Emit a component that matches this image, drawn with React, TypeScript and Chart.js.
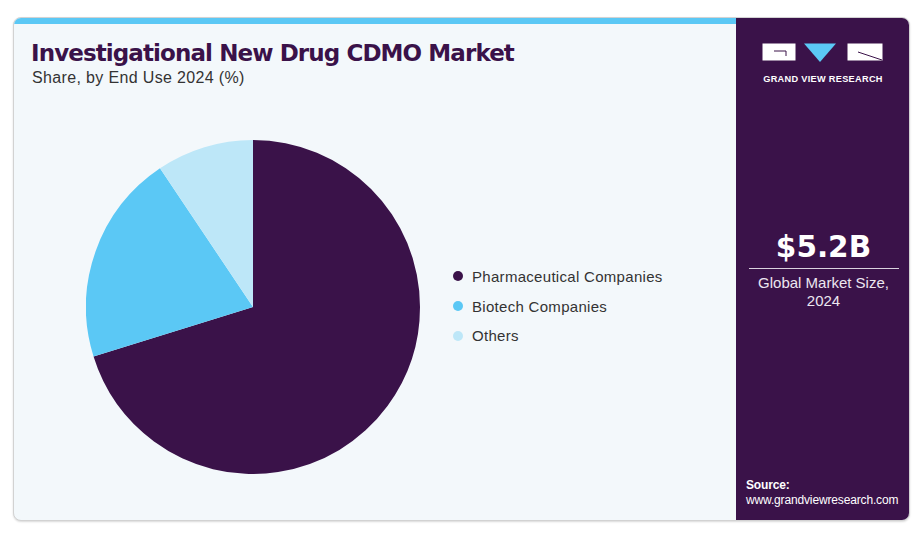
import React, { useEffect, useRef } from "react";
import { Chart, registerables } from "chart.js";

Chart.register(...registerables);

const categories = ["Pharmaceutical Companies", "Biotech Companies", "Others"];
const shares = [70.2, 20.4, 9.4];
const colors = ["#3a1249", "#5bc8f5", "#bde7f8"];

const title = "Investigational New Drug CDMO Market";
const subtitle = "Share, by End Use 2024 (%)";
const marketValue = "$5.2B";
const marketLabel1 = "Global Market Size,";
const marketLabel2 = "2024";

export default function App() {
  const canvasRef = useRef<HTMLCanvasElement | null>(null);

  useEffect(() => {
    if (!canvasRef.current) return;
    const chart = new Chart(canvasRef.current, {
      type: "pie",
      data: {
        labels: categories,
        datasets: [
          {
            data: shares,
            backgroundColor: colors,
            borderWidth: 0,
          },
        ],
      },
      options: {
        animation: false,
        responsive: false,
        maintainAspectRatio: false,
        layout: { padding: 0 },
        plugins: {
          legend: { display: false },
          tooltip: { enabled: false },
        },
      },
    });
    return () => chart.destroy();
  }, []);

  const font = "'Liberation Sans', Arial, sans-serif";
  const heavy = "'DejaVu Sans', 'Liberation Sans', sans-serif";

  return (
    <div
      style={{
        position: "fixed",
        left: 0,
        top: 0,
        width: 922,
        height: 534,
        background: "#ffffff",
        fontFamily: font,
      }}
    >
      <div
        style={{
          position: "absolute",
          left: 13,
          top: 17,
          width: 897,
          height: 504,
          borderRadius: 8,
          border: "1px solid #d2d2d2",
          boxSizing: "border-box",
          overflow: "hidden",
          background: "#f3f8fb",
          boxShadow: "0 1px 2px rgba(0,0,0,0.15)",
        }}
      >
        {/* top stripe */}
        <div
          style={{
            position: "absolute",
            left: 0,
            top: 0,
            width: 722,
            height: 6,
            background: "#5bc8f5",
          }}
        />
        {/* right panel */}
        <div
          style={{
            position: "absolute",
            left: 722,
            top: 0,
            width: 175,
            height: 504,
            background: "#3a1249",
          }}
        />
        {/* Title */}
        <div
          style={{
            position: "absolute",
            left: 17,
            top: 22,
            fontSize: 23,
            fontWeight: 700,
            fontFamily: heavy,
            letterSpacing: -0.9,
            color: "#3a1249",
            whiteSpace: "nowrap",
          }}
        >
          {title}
        </div>
        <div
          style={{
            position: "absolute",
            left: 18,
            top: 51,
            fontSize: 16,
            letterSpacing: 0.35,
            color: "#333333",
            whiteSpace: "nowrap",
          }}
        >
          {subtitle}
        </div>

        {/* Legend */}
        <div style={{ position: "absolute", left: 439, top: 243.5 }}>
          {categories.map((c, i) => (
            <div
              key={c}
              style={{
                height: 29.7,
                display: "flex",
                alignItems: "center",
                fontSize: 15,
                letterSpacing: 0.3,
                color: "#333333",
                whiteSpace: "nowrap",
              }}
            >
              <span
                style={{
                  display: "inline-block",
                  width: 10,
                  height: 10,
                  borderRadius: 5,
                  background: colors[i],
                  marginRight: 9,
                }}
              />
              {c}
            </div>
          ))}
        </div>

        {/* Logo */}
        <svg
          style={{ position: "absolute", left: 722, top: 0 }}
          width={175}
          height={80}
        >
          <rect x={26.5} y={25.5} width={33} height={17} fill="#ffffff" />
          <path d="M38 33 L50 33 L50 38" stroke="#3a1249" strokeWidth={1} fill="none" />
          <polygon points="68,25.5 100,25.5 84,44" fill="#5bc8f5" />
          <rect x={111.5} y={25.5} width={35} height={17} fill="#ffffff" />
          <path d="M122 34 L146 42" stroke="#3a1249" strokeWidth={1} fill="none" />
          <text
            x={87}
            y={64}
            textAnchor="middle"
            fill="#ffffff"
            fontSize={9.2}
            fontWeight={700}
            fontFamily={font}
            letterSpacing={0.3}
          >
            GRAND VIEW RESEARCH
          </text>
        </svg>

        {/* Market size */}
        <div
          style={{
            position: "absolute",
            left: 722,
            top: 212,
            width: 175,
            textAlign: "center",
            color: "#ffffff",
            fontSize: 29.5,
            fontWeight: 700,
            fontFamily: heavy,
          }}
        >
          {marketValue}
        </div>
        <div
          style={{
            position: "absolute",
            left: 735,
            top: 249.5,
            width: 150,
            height: 1.5,
            background: "#d9d2de",
          }}
        />
        <div
          style={{
            position: "absolute",
            left: 722,
            top: 256,
            width: 175,
            textAlign: "center",
            color: "#ece6f0",
            fontSize: 15,
            lineHeight: "18px",
          }}
        >
          {marketLabel1}
          <br />
          {marketLabel2}
        </div>

        {/* Source */}
        <div
          style={{
            position: "absolute",
            left: 732,
            top: 460,
            color: "#ffffff",
            fontSize: 12,
            letterSpacing: -0.15,
            lineHeight: "15px",
          }}
        >
          <div style={{ fontWeight: 700 }}>Source:</div>
          <div>www.grandviewresearch.com</div>
        </div>

        {/* Pie */}
        <canvas
          ref={canvasRef}
          width={334}
          height={334}
          style={{ position: "absolute", left: 72, top: 122, width: 334, height: 334 }}
        />
      </div>
    </div>
  );
}
